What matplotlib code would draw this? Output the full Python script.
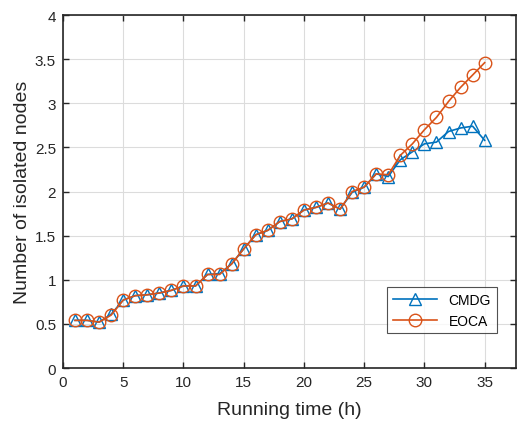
import matplotlib
matplotlib.use('Agg')
from matplotlib import pyplot as plt

# running time (h)
hours = list(range(1, 36))

# number of isolated nodes
cmdg = [0.54, 0.54, 0.52, 0.61, 0.77, 0.82, 0.83, 0.85, 0.88, 0.93,
        0.93, 1.06, 1.07, 1.18, 1.35, 1.51, 1.56, 1.66, 1.69, 1.79,
        1.82, 1.87, 1.80, 1.99, 2.05, 2.20, 2.17, 2.36, 2.45, 2.54,
        2.56, 2.68, 2.72, 2.74, 2.58]
eoca = [0.54, 0.54, 0.52, 0.60, 0.77, 0.82, 0.83, 0.85, 0.88, 0.93,
        0.93, 1.06, 1.06, 1.18, 1.35, 1.51, 1.56, 1.66, 1.69, 1.79,
        1.82, 1.87, 1.80, 2.00, 2.05, 2.20, 2.19, 2.41, 2.54, 2.70,
        2.84, 3.02, 3.18, 3.32, 3.46]

plt.rcParams['font.family'] = ['Liberation Sans', 'DejaVu Sans']

fig = plt.figure(figsize=(5.24, 4.27), dpi=100)
ax = fig.add_axes([0.1202, 0.1358, 0.8645, 0.8267])

ax.plot(hours, cmdg, color='#0072BD', marker='^', markersize=9,
        markerfacecolor='none', markeredgewidth=1.0, linewidth=1.2, label='CMDG')
ax.plot(hours, eoca, color='#D95319', marker='o', markersize=9,
        markerfacecolor='none', markeredgewidth=1.0, linewidth=1.2, label='EOCA')

ax.set_xlim(0, 37.6)
ax.set_ylim(0, 4)
ax.set_xticks([0, 5, 10, 15, 20, 25, 30, 35])
ax.set_yticks([0, 0.5, 1, 1.5, 2, 2.5, 3, 3.5, 4])
ax.set_yticklabels(['0', '0.5', '1', '1.5', '2', '2.5', '3', '3.5', '4'])
ax.grid(True, color='#dcdcdc', linewidth=0.8)
ax.set_axisbelow(True)

for s in ax.spines.values():
    s.set_color('#262626')
    s.set_linewidth(1.2)
ax.tick_params(direction='in', top=True, right=True, length=4, width=1.0,
               colors='#262626', labelsize=11, pad=5)

ax.set_xlabel('Running time (h)', fontsize=14, color='#262626', labelpad=9)
ax.set_ylabel('Number of isolated nodes', fontsize=14, color='#262626', labelpad=3)

leg = ax.legend(loc='lower right', bbox_to_anchor=(0.957, 0.098), borderaxespad=0,
                fancybox=False, edgecolor='#262626', fontsize=10, handlelength=3.2,
                markerscale=1.0)
leg.get_frame().set_linewidth(0.8)

plt.savefig('out.png', dpi=100)
